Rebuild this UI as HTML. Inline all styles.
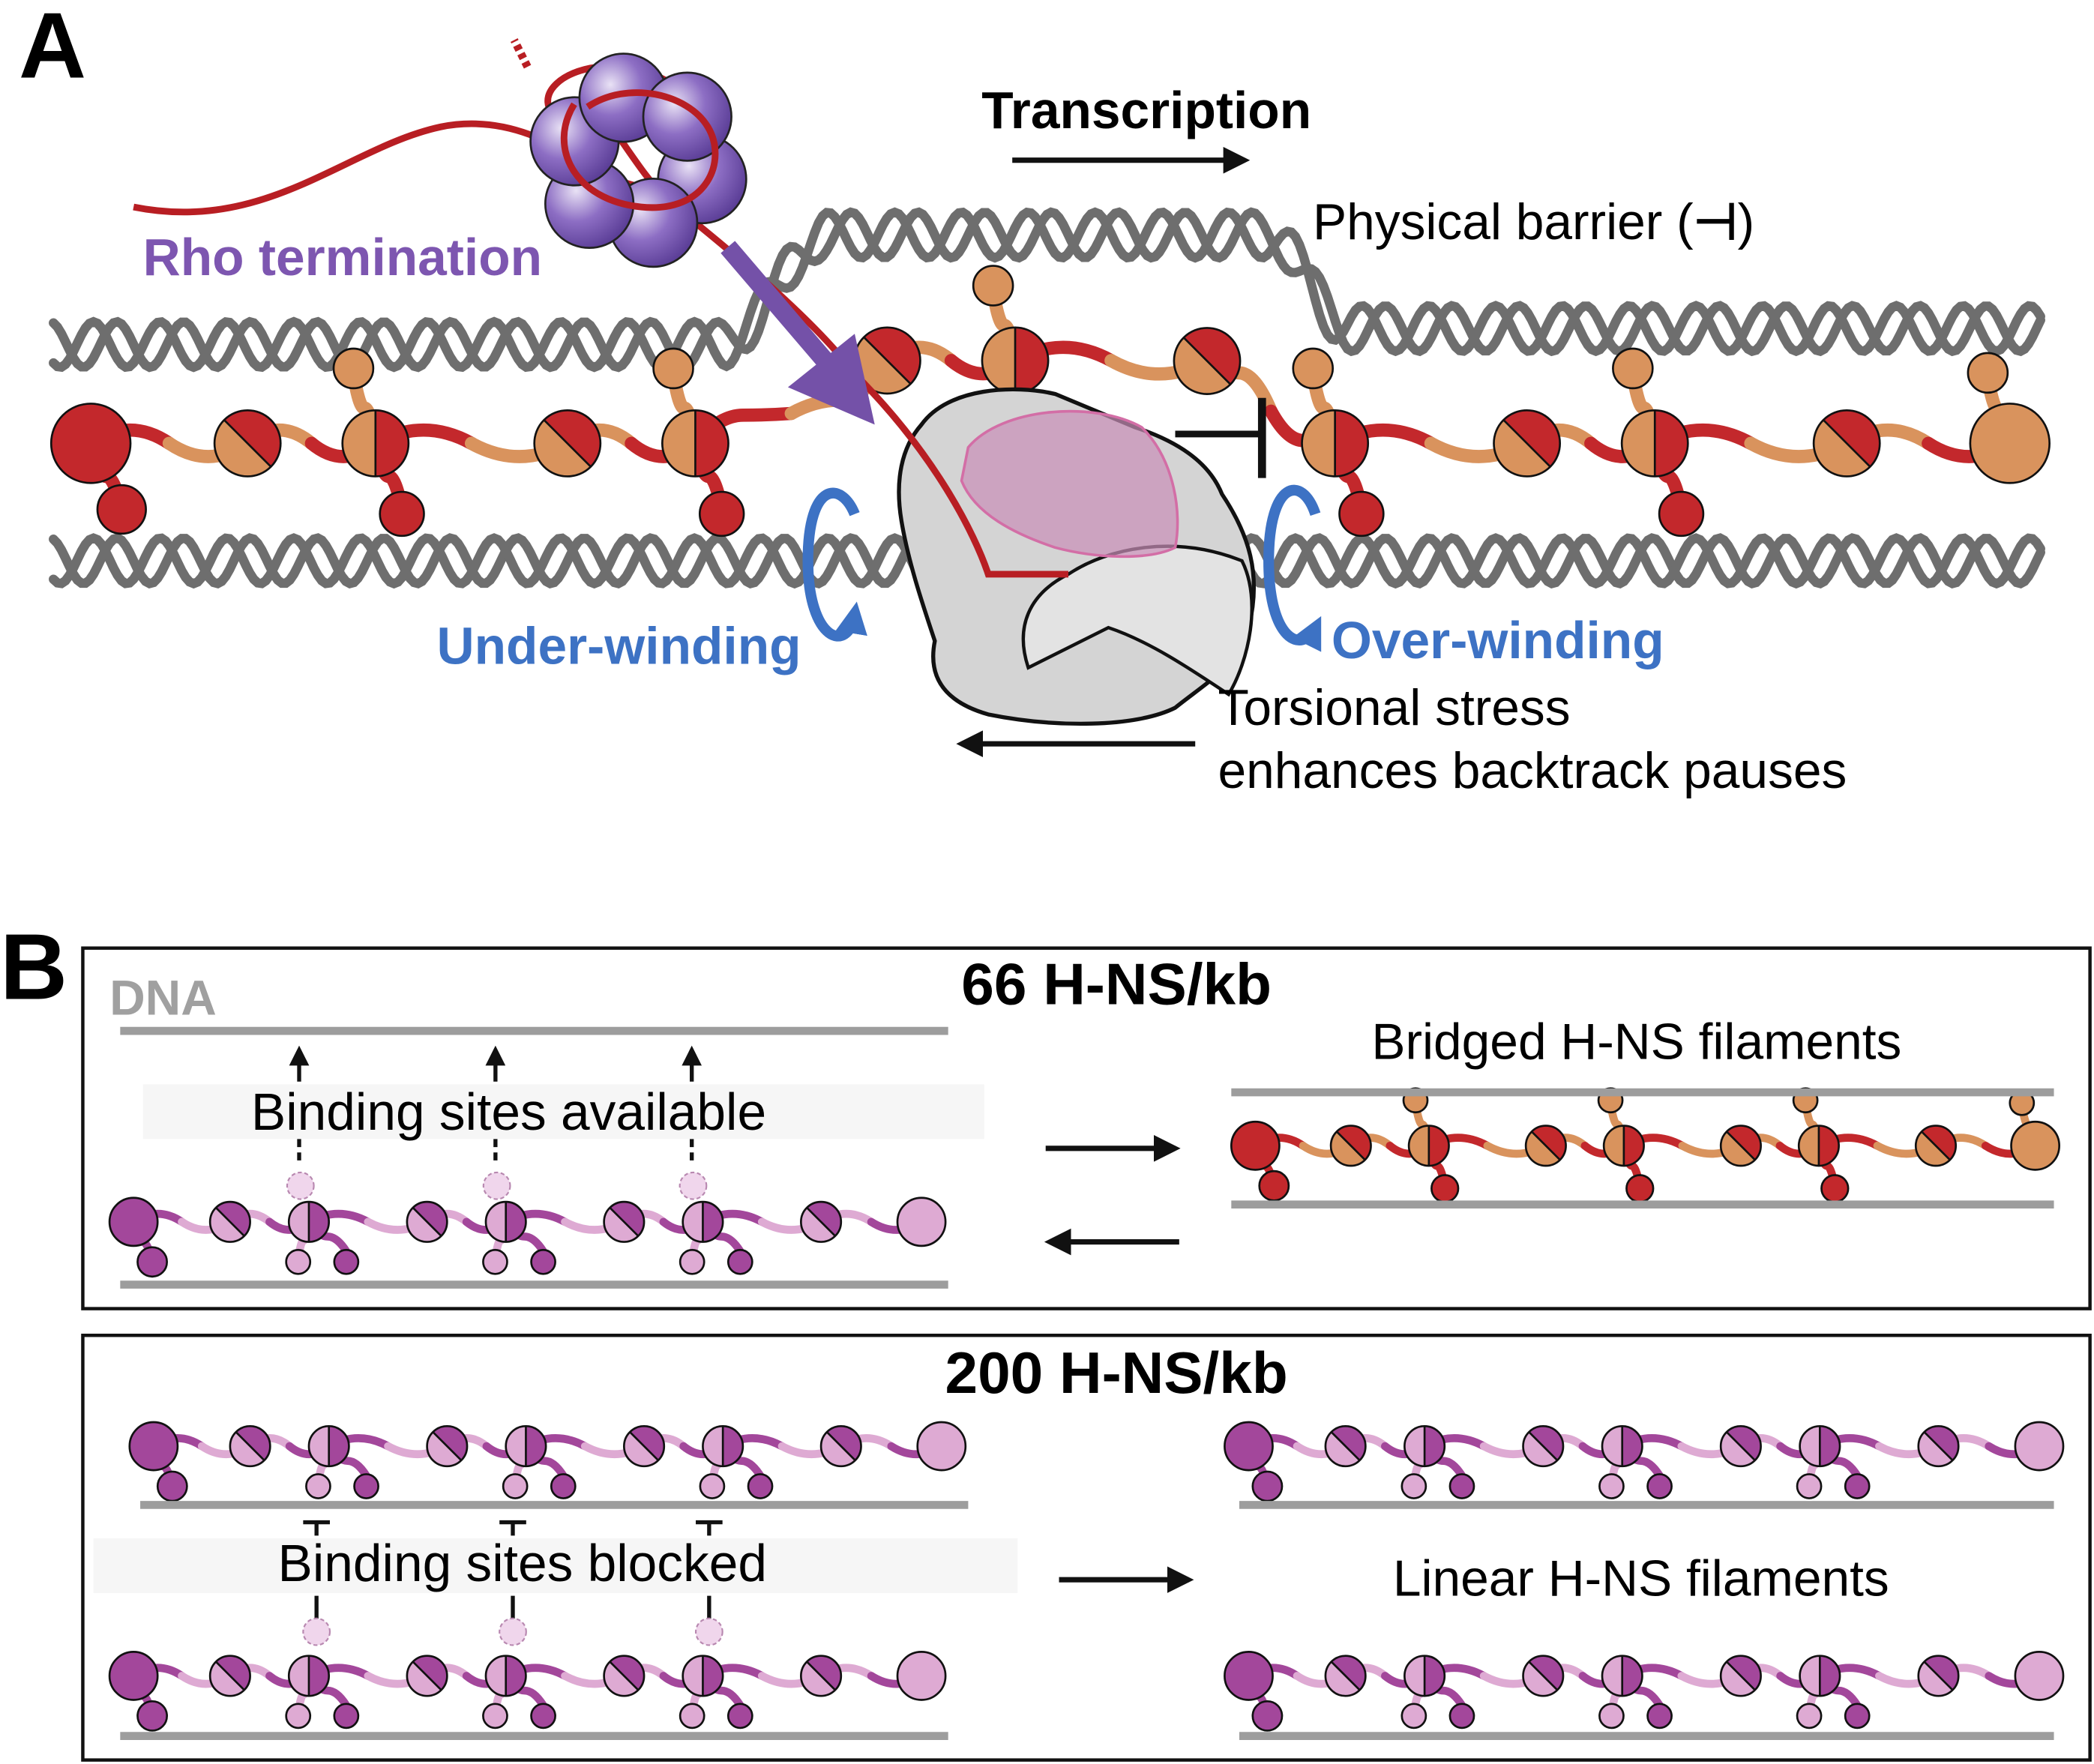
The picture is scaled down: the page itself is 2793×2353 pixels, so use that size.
<!DOCTYPE html>
<html><head><meta charset="utf-8"><style>
html,body{margin:0;padding:0;background:#fff}
svg{display:block}
text{font-family:"Liberation Sans",sans-serif}
</style></head><body>
<svg id="fig" width="2793" height="2353" viewBox="0 0 1568 1321" xmlns="http://www.w3.org/2000/svg">
<defs>
<marker id="ah" viewBox="0 0 10 10" refX="8" refY="5" markerWidth="5" markerHeight="5" orient="auto"><path d="M0,0 L10,5 L0,10 z" fill="#111"/></marker>
<marker id="ahb" viewBox="0 0 10 10" refX="6" refY="5" markerWidth="3" markerHeight="3" orient="auto"><path d="M0,0 L10,5 L0,10 z" fill="#3d72c4"/></marker>
<radialGradient id="rhoG" cx="0.35" cy="0.35" r="0.7"><stop offset="0" stop-color="#e9e2f5"/><stop offset="0.5" stop-color="#8d6ec4"/><stop offset="1" stop-color="#5a3d96"/></radialGradient>
</defs>
<g id="layerHelix"></g>
<g id="layerFil"></g>
<g id="layerTop">
  <path d="M690,318 C710,290 760,288 790,295 L850,320 C880,330 905,345 915,370 C935,400 945,430 935,470 C925,500 905,510 880,530 C850,545 790,545 740,535 C705,525 695,505 700,480 C690,450 680,420 675,390 C670,360 675,335 690,318 Z" fill="#d4d4d4" stroke="#111" stroke-width="3"/>
  <path d="M800,430 C830,410 880,400 930,420 C945,450 935,495 920,520 C890,500 860,480 830,470 L770,500 C760,470 770,445 800,430 Z" fill="#e3e3e3" stroke="#111" stroke-width="2.5"/>
  <path d="M725,335 C750,305 820,300 855,320 C880,345 885,385 880,410 C860,420 820,418 790,410 C760,400 730,385 720,360 Z" fill="#c98fb8" fill-opacity="0.7" stroke="#d36ea6" stroke-width="2"/>
  <path d="M100,155 C200,175 260,110 330,95 C380,85 420,110 440,125 C470,140 500,150 520,130 C545,100 520,60 470,50 C420,45 395,75 420,90 L440,70 C470,110 480,130 500,150 C550,190 610,240 640,280 C700,340 730,400 740,430 L800,430" fill="none" stroke="#b81e23" stroke-width="5"/>
  <g id="rho"></g>
  <path d="M430,78 C410,110 430,150 480,155 C530,160 545,120 530,95 C515,70 470,60 440,80" fill="none" stroke="#b81e23" stroke-width="5"/>
  <path d="M395,50 L385,30" stroke="#b81e23" stroke-width="6" stroke-dasharray="4,3"/>
  <line x1="545" y1="185" x2="628" y2="282" stroke="#7451a8" stroke-width="14"/>
  <path d="M655,318 L590,290 L640,250 Z" fill="#7451a8"/>
  <line x1="880" y1="325" x2="945" y2="325" stroke="#111" stroke-width="5"/>
  <line x1="945" y1="298" x2="945" y2="358" stroke="#111" stroke-width="6"/>
  <path d="M640,385 C630,360 605,360 605,420 C605,480 635,490 640,460" fill="none" stroke="#3d72c4" stroke-width="8" marker-end="url(#ahb)"/>
  <path d="M985,385 C975,355 950,360 950,420 C950,480 975,490 985,470" fill="none" stroke="#3d72c4" stroke-width="8" marker-end="url(#ahb)"/>
  <line x1="758" y1="120" x2="932" y2="120" stroke="#111" stroke-width="4" marker-end="url(#ah)"/>
  <line x1="895" y1="557" x2="720" y2="557" stroke="#111" stroke-width="4" marker-end="url(#ah)"/>
</g>
<g>
<text x="14" y="58" font-size="70" font-weight="bold">A</text>
<text x="735" y="96" font-size="39" font-weight="bold">Transcription</text>
<text x="983" y="179" font-size="38">Physical barrier (<tspan font-weight="bold">⊣</tspan>)</text>
<text x="107" y="206" font-size="39" font-weight="bold" fill="#7d56b0">Rho termination</text>
<text x="327" y="497" font-size="39" font-weight="bold" fill="#3d72c4">Under-winding</text>
<text x="997" y="493" font-size="39" font-weight="bold" fill="#3d72c4">Over-winding</text>
<text x="912" y="543" font-size="38">Torsional stress</text>
<text x="912" y="590" font-size="38">enhances backtrack pauses</text>
</g>
<g>
<text x="0" y="748" font-size="70" font-weight="bold">B</text>
<rect x="62" y="710" width="1503" height="270" fill="none" stroke="#111" stroke-width="2.5"/>
<rect x="62" y="1000" width="1503" height="318" fill="none" stroke="#111" stroke-width="2.5"/>
<text x="836" y="752" font-size="44" font-weight="bold" text-anchor="middle">66 H-NS/kb</text>
<text x="836" y="1043" font-size="44" font-weight="bold" text-anchor="middle">200 H-NS/kb</text>
<text x="82" y="760" font-size="37" font-weight="bold" fill="#a0a0a0">DNA</text>
<rect x="107" y="812" width="630" height="41" fill="#f6f6f6"/>
<rect x="70" y="1152" width="692" height="41" fill="#f6f6f6"/>
<g id="bLines"></g>
<text x="188" y="846" font-size="39">Binding sites available</text>
<text x="208" y="1184" font-size="39">Binding sites blocked</text>
<text x="1027" y="793" font-size="38">Bridged H-NS filaments</text>
<text x="1043" y="1195" font-size="38">Linear H-NS filaments</text>
<line x1="783" y1="860" x2="880" y2="860" stroke="#111" stroke-width="4" marker-end="url(#ah)"/>
<line x1="883" y1="930" x2="786" y2="930" stroke="#111" stroke-width="4" marker-end="url(#ah)"/>
<line x1="793" y1="1183" x2="890" y2="1183" stroke="#111" stroke-width="4" marker-end="url(#ah)"/>
</g>
</svg>
<script>
const NS="http://www.w3.org/2000/svg";
function mk(parent,tag,attrs){const e=document.createElementNS(NS,tag);for(const k in attrs)e.setAttribute(k,attrs[k]);parent.appendChild(e);return e;}
const gH=document.getElementById('layerHelix');
const gF=document.getElementById('layerFil');
const gL=document.getElementById('bLines');
function helix(x0,x1,ycFn,amp,lam,name){
  for(let s=0;s<2;s++){
    let d="";
    for(let x=x0;x<=x1;x+=3){const y=ycFn(x)+amp*Math.sin(2*Math.PI*x/lam+s*2.2);d+=(x===x0?"M":"L")+x.toFixed(1)+","+y.toFixed(1);}
    const p=mk(gH,'path',{d:d,fill:'none',stroke:'#6e6e6e','stroke-width':7,'stroke-linecap':'round'});
    
    
  }
}
function sm(a,b,x){const t=Math.min(1,Math.max(0,(x-a)/(b-a)));return t*t*(3-2*t);}
helix(40,1530,x=>258-82*sm(540,620,x)+70*sm(950,1010,x),17,50,'top-dna');
helix(40,1530,x=>420,17,50,'bottom-dna');
function circle(cx,cy,r,fill){const c=mk(gF,'circle',{cx:cx,cy:cy,r:r,fill:fill,stroke:'#111','stroke-width':1.5});return c;}
function split(cx,cy,r,light,dark,diag){
  const g=mk(gF,'g',{});
  
  
  let a1,a2;
  if(diag){a1=[cx-r*0.707,cy-r*0.707];a2=[cx+r*0.707,cy+r*0.707];}else{a1=[cx,cy-r];a2=[cx,cy+r];}
  mk(g,'path',{d:`M${a1[0]},${a1[1]} A${r},${r} 0 0 0 ${a2[0]},${a2[1]} Z`,fill:light});
  mk(g,'path',{d:`M${a1[0]},${a1[1]} A${r},${r} 0 0 1 ${a2[0]},${a2[1]} Z`,fill:dark});
  mk(g,'circle',{cx:cx,cy:cy,r:r,fill:'none',stroke:'#111','stroke-width':1.5});
  mk(g,'line',{x1:a1[0],y1:a1[1],x2:a2[0],y2:a2[1],stroke:'#111','stroke-width':1.5});
}
function conn(x1,y1,x2,y2,col,w,bend){
  const mx=(x1+x2)/2,my=(y1+y2)/2+bend;
  const p=mk(gF,'path',{d:`M${x1},${y1} Q${(x1+mx)/2},${my} ${mx},${my} T${x2},${y2}`,fill:'none',stroke:col,'stroke-width':w,'stroke-linecap':'round'});
  
  
}
function filament(xs,P,k,yFn,s,light,dark,mode){
  const w=6*s, rBig=18*s, rSplit=15*s, rSmall=9*s;
  const els=[{x:xs,t:'endL'}];
  for(let i=0;i<k;i++){els.push({x:xs+0.49*P+i*P,t:'split'});els.push({x:xs+0.89*P+i*P,t:'junc'});}
  els.push({x:xs+0.49*P+k*P,t:'split'});
  els.push({x:xs+(k+1)*P,t:'endR'});
  for(let i=0;i<els.length-1;i++){
    const a=els[i],b=els[i+1];
    const mx=(a.x+b.x)/2;
    conn(a.x,yFn(a.x),mx,yFn(mx),i%2===0?dark:light,w,-6*s);
    conn(mx,yFn(mx),b.x,yFn(b.x),i%2===0?light:dark,w,6*s);
  }
  els.forEach(e=>{
    const y=yFn(e.x);
    if(e.t==='endL'){
      conn(e.x,y,e.x+14*s,y+30*s,dark,w,0);
      circle(e.x+14*s,y+30*s,rSmall+2*s,dark);
      circle(e.x,y,rBig,dark);
    } else if(e.t==='endR'){
      if(mode==='bridged'){conn(e.x,y,e.x-10*s,y-30*s,light,w,0);circle(e.x-10*s,y-32*s,rSmall,light);}
      circle(e.x,y,rBig,light);
    } else if(e.t==='split'){
      split(e.x,y,rSplit,light,dark,true);
    } else {
      if(mode==='bridged'){
        conn(e.x,y,e.x-10*s,y-32*s,light,w,0);circle(e.x-10*s,y-34*s,rSmall,light);
        conn(e.x,y,e.x+12*s,y+30*s,dark,w,0);circle(e.x+12*s,y+32*s,rSmall+1*s,dark);
      } else {
        conn(e.x,y,e.x-8*s,y+28*s,light,w,0);circle(e.x-8*s,y+30*s,rSmall,light);
        conn(e.x,y,e.x+28*s,y+22*s,dark,w,0);circle(e.x+28*s,y+30*s,rSmall,dark);
      }
      split(e.x,y,rSplit,light,dark,false);
    }
  });
}
const RED='#c3282c',ORG='#d9935d',MAG='#a3479b',PNK='#deaad3';
filament(68,239.5,5,x=>332-62*sm(560,640,x)+62*sm(900,990,x),1.65,ORG,RED,'bridged');
function hline(x1,x2,y,name){const l=mk(gL,'line',{x1:x1,y1:y,x2:x2,y2:y,stroke:'#9d9d9d','stroke-width':6});}
hline(90,710,772,'dna-line-top-66');hline(90,710,962,'dna-line-bottom-66');
hline(922,1538,818,'dna-line-bridged-top');hline(922,1538,902,'dna-line-bridged-bottom');
hline(105,725,1127,'dna-line-200-a');hline(90,710,1300,'dna-line-200-b');
hline(928,1538,1127,'dna-line-linear-a');hline(928,1538,1300,'dna-line-linear-b');
filament(100,147.5,3,x=>915,1,PNK,MAG,'linear');
filament(940,146,3,x=>858,1,ORG,RED,'bridged');
filament(115,147.5,3,x=>1083,1,PNK,MAG,'linear');
filament(100,147.5,3,x=>1255,1,PNK,MAG,'linear');
filament(935,148,3,x=>1083,1,PNK,MAG,'linear');
filament(935,148,3,x=>1255,1,PNK,MAG,'linear');
[224,371,518].forEach(x=>{
  const a=mk(gL,'line',{x1:x,y1:810,x2:x,y2:786,stroke:'#111','stroke-width':3,'marker-end':'url(#ah)'});
  
  const d=mk(gL,'line',{x1:x,y1:853,x2:x,y2:872,stroke:'#111','stroke-width':3,'stroke-dasharray':'6,4'});
  
  const c=mk(gL,'circle',{cx:x+1,cy:888,r:10,fill:'#f0d6ec',stroke:'#b888b0','stroke-width':1.2,'stroke-dasharray':'3,2'});
  
});
[237,384,531].forEach(x=>{
  const t=mk(gL,'path',{d:`M${x-10},1140 L${x+10},1140 M${x},1140 L${x},1150 M${x},1195 L${x},1212`,stroke:'#111','stroke-width':3,fill:'none'});
  
  const c=mk(gL,'circle',{cx:x,cy:1222,r:10,fill:'#f0d6ec',stroke:'#b888b0','stroke-width':1.2,'stroke-dasharray':'3,2'});
  
});
const rho=document.getElementById('rho');
for(let i=0;i<6;i++){
  const a=Math.PI/3*i+0.3;
  const c=mk(rho,'circle',{cx:478+50*Math.cos(a),cy:120+48*Math.sin(a),r:33,fill:'url(#rhoG)',stroke:'#222','stroke-width':1.5});
  
  
}
</script>
</body></html>
